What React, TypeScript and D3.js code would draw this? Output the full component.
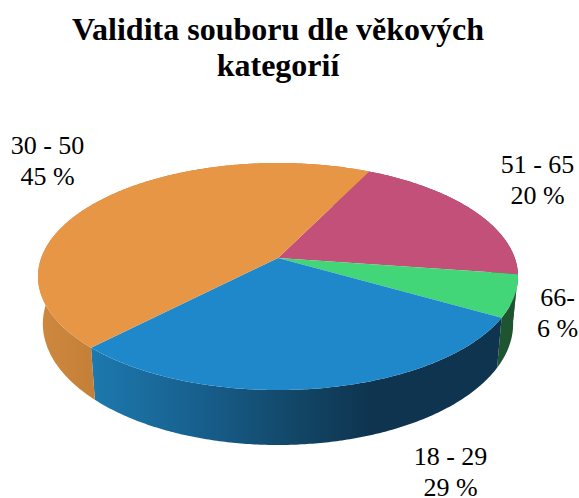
import React from "react";
import * as d3 from "d3";

const categories = ["51 - 65", "66-", "18 - 29", "30 - 50"];
const values = [20, 6, 29, 45];
const percentLabels = ["20 %", "6 %", "29 %", "45 %"];
const titleLines = ["Validita souboru dle věkových", "kategorií"];
const topColors = ["#c25079", "#42d679", "#1e88ca", "#e69645"];
const sideColors = ["#7c3350", "#1c5530", "url(#blueSide)", "url(#orangeSide)"];

const W = 579;
const H = 498;
const FONT = "'Liberation Serif', 'Times New Roman', serif";
const cx = 278;
const k = 0.163;
const topPlane = { a: 236.8, b: 110.5, cy: 258 };
const bottomPlane = { a: 232, b: 118, cy: 304 };
const labelAnchors = [
  { x: 537.5, y: 173 },
  { x: 557.5, y: 306 },
  { x: 450.5, y: 465 },
  { x: 47.5, y: 154 },
];
const labelGap = 31;

type Plane = { a: number; b: number; cy: number };
// d3 pie angle: 0 at 12 o'clock, clockwise. Project the tilted disc with perspective.
function project(angle: number, p: Plane): [number, number] {
  const X = Math.sin(angle);
  const Y = -Math.cos(angle);
  const w = 1 - k * Y;
  return [cx + (p.a * X) / w, p.cy + (p.b * Y) / w];
}
function arcPoints(a0: number, a1: number, p: Plane): [number, number][] {
  const n = Math.max(2, Math.ceil((a1 - a0) / 0.01));
  return d3.range(n + 1).map((i) => project(a0 + ((a1 - a0) * i) / n, p));
}

const pie = d3
  .pie<number>()
  .sort(null)
  .startAngle((26.2 * Math.PI) / 180)
  .endAngle((386.2 * Math.PI) / 180);
const line = d3.line();
const blueStops = d3
  .scaleLinear<string>()
  .domain([94, 200, 300, 372])
  .range(["#1d78ad", "#175f8d", "#124565", "#0e344f"]);

export default function App() {
  const arcs = pie(values);
  return (
    <svg
      width={W}
      height={H}
      viewBox={`0 0 ${W} ${H}`}
      style={{ position: "absolute", left: 0, top: 0, background: "#fff" }}
    >
      <defs>
        <linearGradient id="blueSide" gradientUnits="userSpaceOnUse" x1={94} x2={372} y1={0} y2={0}>
          {[94, 200, 300, 372].map((x) => (
            <stop key={x} offset={(x - 94) / (372 - 94)} stopColor={blueStops(x)} />
          ))}
        </linearGradient>
        <linearGradient id="orangeSide" gradientUnits="userSpaceOnUse" x1={40} x2={94} y1={0} y2={0}>
          <stop offset={0} stopColor="#cf873f" />
          <stop offset={1} stopColor="#c48038" />
        </linearGradient>
      </defs>

      {arcs.map((d, i) => {
        const top = arcPoints(d.startAngle, d.endAngle, topPlane);
        const bottom = arcPoints(d.startAngle, d.endAngle, bottomPlane).reverse();
        return <path key={`side-${i}`} d={line([...top, ...bottom])! + "Z"} fill={sideColors[i]} />;
      })}

      {arcs.map((d, i) => {
        const top = arcPoints(d.startAngle, d.endAngle, topPlane);
        const pts: [number, number][] = [[cx, topPlane.cy], ...top];
        return <path key={`top-${i}`} d={line(pts)! + "Z"} fill={topColors[i]} />;
      })}

      <g fontFamily={FONT} fontWeight="bold" fontSize={32} fill="#000" textAnchor="middle">
        {titleLines.map((t, i) => (
          <text key={t} x={278} y={40 + i * 36}>
            {t}
          </text>
        ))}
      </g>

      <g fontFamily={FONT} fontSize={26} fill="#000" textAnchor="middle">
        {categories.map((c, i) => (
          <g key={c}>
            <text x={labelAnchors[i].x} y={labelAnchors[i].y}>
              {c}
            </text>
            <text x={labelAnchors[i].x} y={labelAnchors[i].y + labelGap}>
              {percentLabels[i]}
            </text>
          </g>
        ))}
      </g>
    </svg>
  );
}
